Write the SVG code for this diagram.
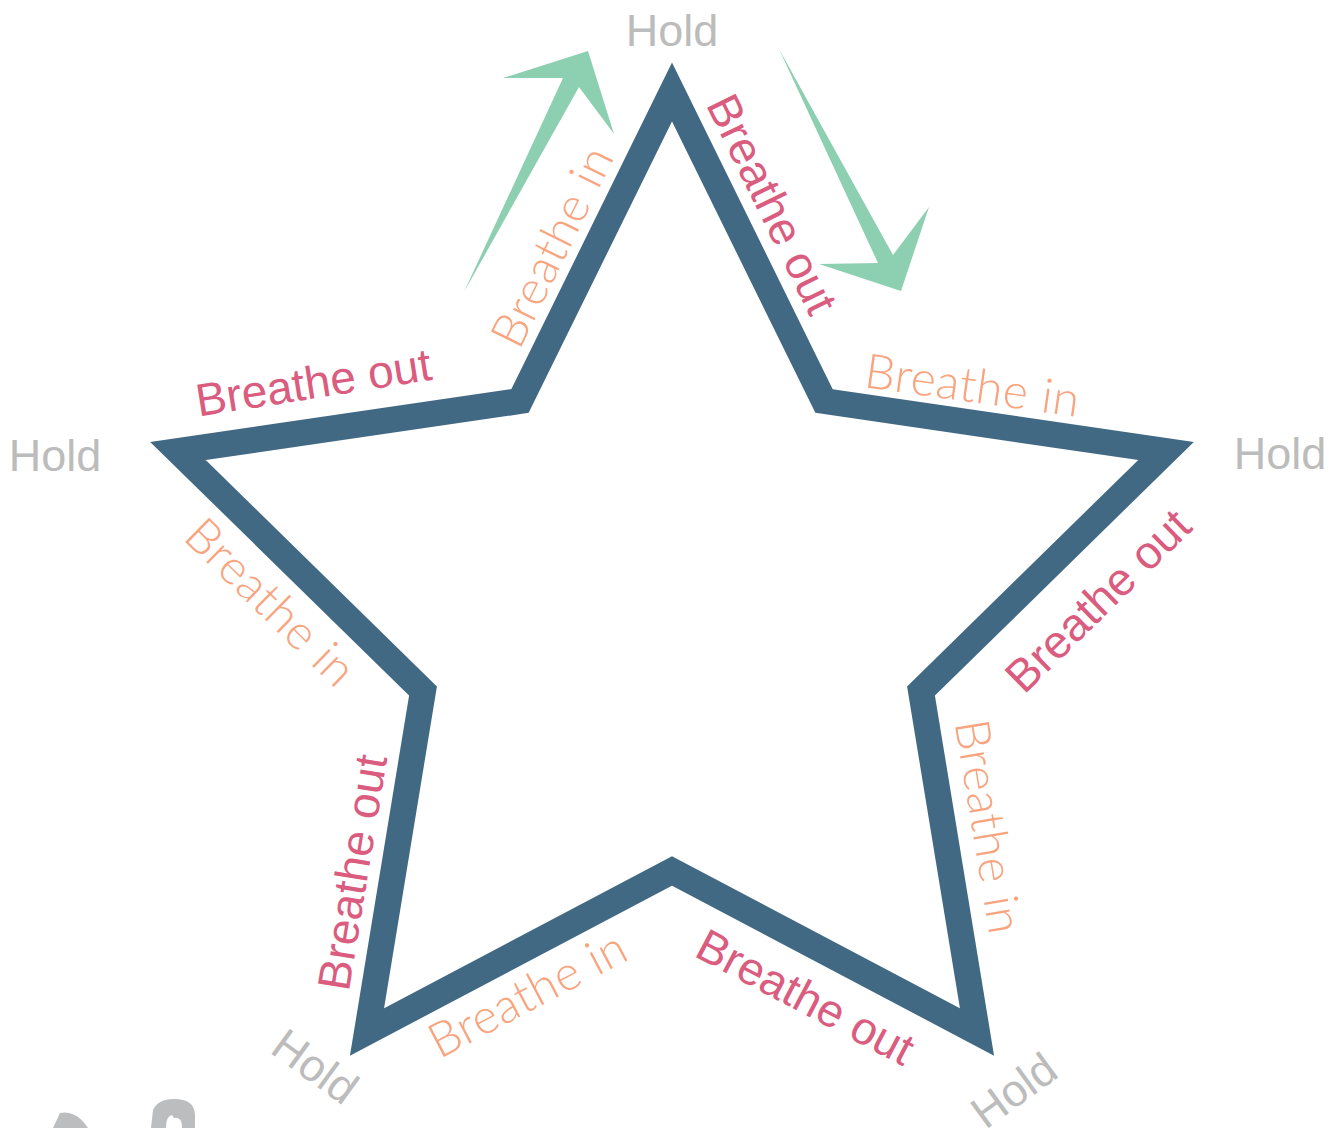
<svg xmlns="http://www.w3.org/2000/svg" width="1338" height="1128" viewBox="0 0 1338 1128">
<style>
.hold{font-family:"Liberation Sans",Arial,sans-serif;font-size:45px;fill:#bcbcbc;text-anchor:middle}
.out{font-family:"Liberation Sans",Arial,sans-serif;font-size:46px;fill:#da5c7f;text-anchor:middle}
.in{font-family:Lato,"Open Sans",sans-serif;font-weight:300;font-size:48px;fill:#f8a47f;text-anchor:middle}
.arrow{fill:#8dcfb1}
.blob{fill:#bcbdbf;fill-rule:evenodd}
</style>
<rect width="1338" height="1128" fill="#ffffff"/>
<g id="star">
<polygon points="672,92 824,401 1166,451 921,691 977,1032 672,871 367,1032 423,691 178,451 520,401" fill="none" stroke="#426984" stroke-width="26" stroke-linejoin="miter" stroke-miterlimit="10"/>
</g>
<g id="connectors">
<polygon class="arrow" points="464,292 563,78 503,78 588,51 614,134 579,87"/>
<polygon class="arrow" points="779,49 893,255 929,207 901,291 819,264 878,263"/>
</g>
<g id="holds">
<text class="hold" x="672" y="46">Hold</text>
<text class="hold" x="55" y="471">Hold</text>
<text class="hold" x="1280" y="469">Hold</text>
<text class="hold" transform="translate(306,1079) rotate(36)">Hold</text>
<text class="hold" transform="translate(1023,1103) rotate(-36)">Hold</text>
</g>
<g id="breathe-out">
<text class="out" transform="translate(316,398) rotate(-9)">Breathe out</text>
<text class="out" transform="translate(758,211) rotate(63.8)">Breathe out</text>
<text class="out" transform="translate(1109,612) rotate(-44.4)">Breathe out</text>
<text class="out" transform="translate(798,1011) rotate(27.8)">Breathe out</text>
<text class="out" transform="translate(368,875) rotate(-80.7)">Breathe out</text>
</g>
<g id="breathe-in">
<text class="in" transform="translate(970,402) rotate(8)" textLength="216" lengthAdjust="spacing">Breathe in</text>
<text class="in" transform="translate(567,254) rotate(-63.8)" textLength="216" lengthAdjust="spacing">Breathe in</text>
<text class="in" transform="translate(259,614) rotate(44.4)" textLength="216" lengthAdjust="spacing">Breathe in</text>
<text class="in" transform="translate(972,829) rotate(80.7)" textLength="216" lengthAdjust="spacing">Breathe in</text>
<text class="in" transform="translate(535,1009) rotate(-27.8)" textLength="216" lengthAdjust="spacing">Breathe in</text>
</g>
<g id="bottom-shapes">
<path class="blob" d="M53,1128 L60,1113 Q76,1110 88,1128 Z"/>
<path class="blob" d="M151,1128 L153,1110 Q158,1099 174,1099 Q194,1099 195,1114 L195,1128 Z M166,1128 Q166,1116 172,1115 L174,1118 Q182,1116 182,1128 Z"/>
</g>
</svg>
